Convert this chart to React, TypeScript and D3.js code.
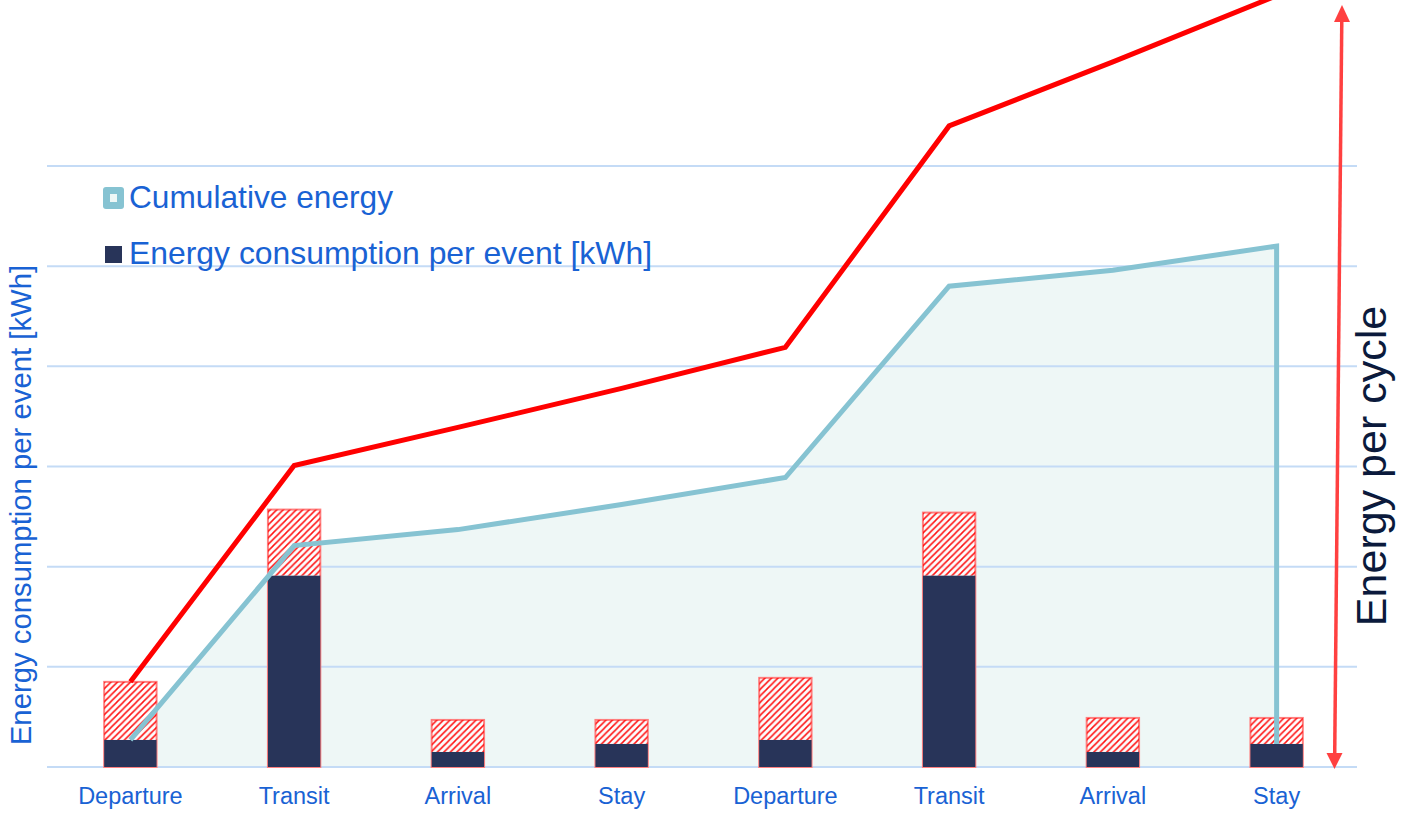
import React from "react";
import * as d3 from "d3";

const categories = ["Departure", "Transit", "Arrival", "Stay", "Departure", "Transit", "Arrival", "Stay"];
const eventEnergy = [0.27, 1.91, 0.15, 0.23, 0.27, 1.91, 0.15, 0.23];
const extraEnergy = [0.58, 0.66, 0.32, 0.24, 0.62, 0.63, 0.34, 0.26];
const cumulativeEnergy = [0.27, 2.21, 2.37, 2.62, 2.89, 4.8, 4.96, 5.2];
const upperEnergy = [0.85, 3.01, 3.39, 3.78, 4.19, 6.4, 7.04, 7.7];
const yTicks = [0, 1, 2, 3, 4, 5, 6];

const W = 1410;
const H = 814;
const FONT = "'Liberation Sans', Arial, sans-serif";
const BLUE_TEXT = "#1962d4";
const NAVY = "#283459";
const CUM = "#86c3d2";
const FILL = "#eef7f6";
const GRID = "#c4dbf6";

export default function App() {
  const idx = categories.map((_, i) => i);
  const x = d3.scaleBand<number>().domain(idx).range([48.5, 1358.5]).padding(0);
  const cx = (i: number) => (x(i) as number) + x.bandwidth() / 2;
  const y = d3.scaleLinear().domain([0, 6]).range([767, 166]);
  const barW = x.bandwidth() * 0.32;

  const area = d3
    .area<number>()
    .x((d, i) => cx(i))
    .y0(y(0))
    .y1((d) => y(d));
  const cumPts: [number, number][] = cumulativeEnergy.map((v, i) => [cx(i), y(v)]);
  cumPts.push([cx(7), y(eventEnergy[7])]);
  const line = d3.line();
  const redPts: [number, number][] = upperEnergy.map((v, i) => [cx(i), y(v)]);

  const arrowTop: [number, number] = [1342, 5];
  const arrowBot: [number, number] = [1334.5, y(0) + 2];

  return (
    <div style={{ position: "absolute", left: 0, top: 0 }}>
      <svg width={W} height={H} style={{ display: "block", background: "#fff" }}>
        <defs>
          <pattern id="hatch" patternUnits="userSpaceOnUse" width={6.5} height={6.5}>
            <path d="M-1,1 l2,-2 M0,6.5 l6.5,-6.5 M5.5,7.5 l2,-2" stroke="#ff1010" strokeWidth={1.5} />
          </pattern>
        </defs>

        {/* cumulative area */}
        <path d={area(cumulativeEnergy) || ""} fill={FILL} />

        {/* gridlines */}
        {yTicks.map((t) => (
          <line key={t} x1={47} x2={1357} y1={y(t)} y2={y(t)} stroke={GRID} strokeWidth={2} />
        ))}

        {/* bars */}
        {idx.map((i) => {
          const bx = cx(i) - barW / 2;
          const top = eventEnergy[i] + extraEnergy[i];
          return (
            <g key={i}>
              <rect x={bx} y={y(top)} width={barW} height={y(0) - y(top)} fill="#ffffff" fillOpacity={0.75} stroke="#ff8080" strokeWidth={2} />
              <rect x={bx} y={y(top)} width={barW} height={y(eventEnergy[i]) - y(top)} fill="url(#hatch)" />
              <rect x={bx} y={y(eventEnergy[i])} width={barW} height={y(0) - y(eventEnergy[i])} fill={NAVY} />
            </g>
          );
        })}

        {/* cumulative line */}
        <path d={line(cumPts) || ""} fill="none" stroke={CUM} strokeWidth={5} strokeLinejoin="miter" />

        {/* upper red line */}
        <path d={line(redPts) || ""} fill="none" stroke="#ff0000" strokeWidth={5} />

        {/* double arrow */}
        <line x1={arrowTop[0] - 0.2} y1={arrowTop[1] + 14} x2={arrowBot[0] + 0.2} y2={arrowBot[1] - 14} stroke="#ff4040" strokeWidth={3.5} />
        <polygon points={`${arrowTop[0]},${arrowTop[1]} ${arrowTop[0] - 8},${arrowTop[1] + 17} ${arrowTop[0] + 8},${arrowTop[1] + 17}`} fill="#ff4040" />
        <polygon points={`${arrowBot[0]},${arrowBot[1]} ${arrowBot[0] - 8},${arrowBot[1] - 16} ${arrowBot[0] + 8},${arrowBot[1] - 16}`} fill="#ff4040" />

        {/* x labels */}
        {idx.map((i) => (
          <text key={i} x={cx(i)} y={804} textAnchor="middle" fontFamily={FONT} fontSize={23.5} fill={BLUE_TEXT}>
            {categories[i]}
          </text>
        ))}

        {/* left axis title */}
        <text transform={`translate(31,505) rotate(-90)`} textAnchor="middle" fontFamily={FONT} fontSize={29.3} fill={BLUE_TEXT}>
          Energy consumption per event [kWh]
        </text>

        {/* right annotation */}
        <text transform={`translate(1386,466) rotate(-90)`} textAnchor="middle" fontFamily={FONT} fontSize={43} fill="#0b1a3c">
          Energy per cycle
        </text>

        {/* legend */}
        <rect x={103} y={187} width={21} height={22} rx={3} fill={CUM} />
        <rect x={110} y={194} width={7} height={8} fill={FILL} />
        <text x={129} y={208} fontFamily={FONT} fontSize={31.5} fill={BLUE_TEXT} textLength={264} lengthAdjust="spacingAndGlyphs">
          Cumulative energy
        </text>
        <rect x={105} y={246} width={17} height={17} fill={NAVY} />
        <text x={129} y={264} fontFamily={FONT} fontSize={31.5} fill={BLUE_TEXT} textLength={523} lengthAdjust="spacingAndGlyphs">
          Energy consumption per event [kWh]
        </text>
      </svg>
    </div>
  );
}
